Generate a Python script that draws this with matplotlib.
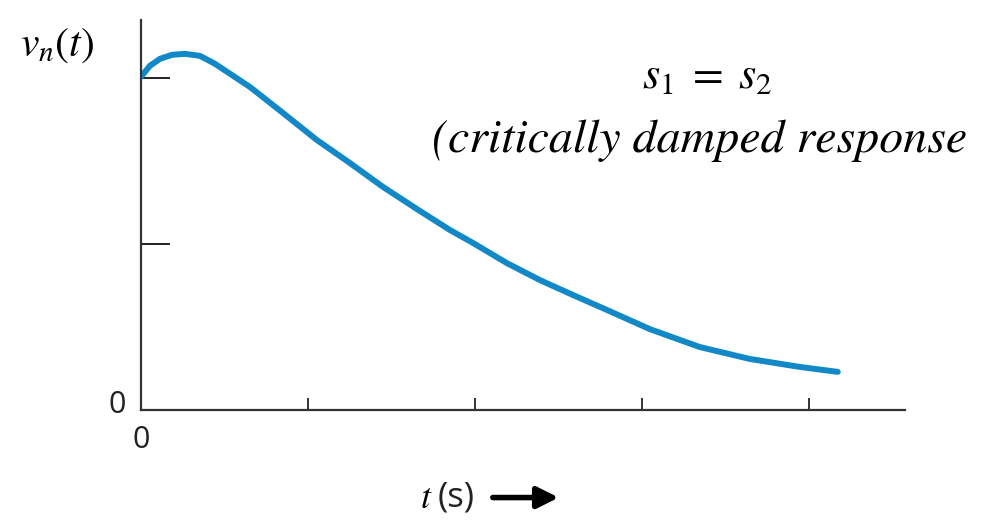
import matplotlib.pyplot as plt
from matplotlib.patches import FancyArrowPatch

# values (x: one unit per tick, y: 1.0 at upper tick)
t_vals = [0.0, 0.054, 0.114, 0.186, 0.263, 0.353, 0.443, 0.533, 0.653, 0.850,
          1.054, 1.251, 1.449, 1.653, 1.850, 1.988, 2.192, 2.389, 2.587,
          2.790, 3.048, 3.347, 3.647, 3.946, 4.174]
v_vals = [1.005, 1.038, 1.059, 1.071, 1.074, 1.068, 1.044, 1.014, 0.974, 0.896,
          0.814, 0.745, 0.673, 0.606, 0.543, 0.504, 0.443, 0.392, 0.347,
          0.302, 0.244, 0.190, 0.154, 0.130, 0.115]
x_ticks = [1, 2, 3, 4]
y_ticks = [0.5, 1.0]

plt.rcParams['mathtext.fontset'] = 'stix'

fig = plt.figure(figsize=(9.92, 5.21), dpi=100)
ax = fig.add_axes([0.1421, 0.213, 0.912 - 0.1421, 0.9616 - 0.213])

ax.plot(t_vals, v_vals, color='#1289c6', lw=4.3, solid_capstyle='round',
        solid_joinstyle='round')

ax.set_xlim(0, 4.575)
ax.set_ylim(0, 1.176)
for side in ['top', 'right']:
    ax.spines[side].set_visible(False)
for side in ['left', 'bottom']:
    ax.spines[side].set_color('#333333')
    ax.spines[side].set_linewidth(1.6)

ax.set_xticks(x_ticks)
ax.set_yticks(y_ticks)
ax.set_xticklabels([])
ax.set_yticklabels([])
ax.tick_params(axis='x', direction='in', length=8.6, width=1.4, color='#333333')
ax.tick_params(axis='y', direction='in', length=21, width=1.4, color='#222222')

# the two origin zeros
ax.text(0, -0.09, '0', ha='center', va='center', fontsize=22, family='Open Sans',
        color='#222222')
ax.text(-0.14, 0.015, '0', ha='center', va='center', fontsize=22, family='Open Sans',
        color='#222222')

# axis labels
fig.text(0.02, 0.915, r'$v_n(t)$', fontsize=30, ha='left', va='center')
fig.text(0.423, 0.045, r'$t$', fontsize=26, ha='left', va='center')
fig.text(0.441, 0.045, '(s)', fontsize=25, family='Open Sans', ha='left', va='center',
         color='#222222')
fig.patches.append(FancyArrowPatch((0.494, 0.045), (0.566, 0.045),
                                   transform=fig.transFigure, arrowstyle='-|>',
                                   mutation_scale=32, lw=4, color='black'))

# annotation
fig.text(0.713, 0.855, r'$s_1\;=\;s_2$', fontsize=32, ha='center', va='center')
fig.text(0.435, 0.73, '(critically damped response', fontsize=34.5,
         family='STIXGeneral', style='italic', ha='left', va='center')

fig.savefig('out.png', dpi=100)
